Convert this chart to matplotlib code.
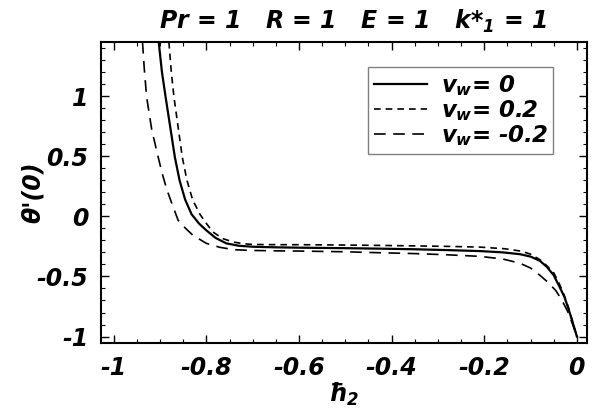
import matplotlib
matplotlib.use("Agg")
import matplotlib.pyplot as plt
from matplotlib.ticker import MultipleLocator

plt.rcParams['font.family'] = 'DejaVu Sans'
plt.rcParams['font.weight'] = 'bold'
plt.rcParams['font.style'] = 'italic'
plt.rcParams['mathtext.fontset'] = 'custom'
plt.rcParams['mathtext.rm'] = 'DejaVu Sans:italic:bold'
plt.rcParams['mathtext.it'] = 'DejaVu Sans:italic:bold'
plt.rcParams['mathtext.bf'] = 'DejaVu Sans:italic:bold'

# values
h2_zero = [-0.903, -0.896, -0.888, -0.878, -0.868, -0.858, -0.846, -0.832, -0.816, -0.80,
           -0.78, -0.757, -0.73, -0.70, -0.65, -0.598, -0.50, -0.425, -0.35, -0.28,
           -0.21, -0.16, -0.123, -0.10, -0.08, -0.065, -0.05, -0.037, -0.027, -0.019,
           -0.01, 0.0]
th_zero = [1.45, 1.20, 0.99, 0.74, 0.49, 0.30, 0.14, 0.017, -0.06, -0.117,
           -0.18, -0.225, -0.245, -0.253, -0.258, -0.261, -0.265, -0.269, -0.274, -0.281,
           -0.289, -0.30, -0.315, -0.335, -0.37, -0.42, -0.49, -0.59, -0.67, -0.76,
           -0.87, -1.0]

h2_pos = [-0.881, -0.876, -0.870, -0.861, -0.852, -0.842, -0.830, -0.814, -0.80, -0.786,
          -0.765, -0.742, -0.72, -0.70, -0.65, -0.598, -0.50, -0.425, -0.35, -0.28,
          -0.21, -0.155, -0.12, -0.10, -0.08, -0.065, -0.05, -0.038, -0.028, -0.018,
          -0.009, 0.0]
th_pos = [1.45, 1.21, 0.99, 0.74, 0.49, 0.30, 0.14, 0.017, -0.06, -0.13,
          -0.185, -0.214, -0.228, -0.234, -0.236, -0.236, -0.239, -0.242, -0.246, -0.25,
          -0.256, -0.27, -0.29, -0.315, -0.36, -0.41, -0.47, -0.56, -0.65, -0.76,
          -0.88, -1.0]

h2_neg = [-0.938, -0.934, -0.929, -0.918, -0.904, -0.895, -0.885, -0.873, -0.861, -0.845,
          -0.829, -0.80, -0.771, -0.739, -0.70, -0.65, -0.598, -0.50, -0.425, -0.35,
          -0.28, -0.21, -0.16, -0.123, -0.10, -0.08, -0.062, -0.045, -0.032, -0.02,
          -0.01, 0.0]
th_neg = [1.45, 1.22, 0.99, 0.72, 0.49, 0.35, 0.217, 0.09, -0.033, -0.10,
          -0.158, -0.225, -0.258, -0.278, -0.284, -0.287, -0.289, -0.295, -0.303, -0.31,
          -0.32, -0.333, -0.355, -0.39, -0.43, -0.49, -0.55, -0.62, -0.70, -0.79,
          -0.89, -1.0]

labels = ['$v_w$= 0', '$v_w$= 0.2', '$v_w$= -0.2']
xticks = [-1, -0.8, -0.6, -0.4, -0.2, 0]
xtick_labels = ['-1', '-0.8', '-0.6', '-0.4', '-0.2', '0']
yticks = [-1, -0.5, 0, 0.5, 1]
ytick_labels = ['-1', '-0.5', '0', '0.5', '1']

fig = plt.figure(figsize=(5.93, 4.11), dpi=100)
ax = fig.add_axes([0.170, 0.165, 0.820, 0.733])

ax.plot(h2_zero, th_zero, color='black', lw=1.6, label=labels[0])
ax.plot(h2_pos, th_pos, color='black', lw=1.2, dashes=(4, 3), label=labels[1])
ax.plot(h2_neg, th_neg, color='black', lw=1.2, dashes=(7, 4.5), label=labels[2])

ax.set_xlim(-1.028, 0.022)
ax.set_ylim(-1.055, 1.45)

ax.set_xticks(xticks)
ax.set_xticklabels(xtick_labels)
ax.set_yticks(yticks)
ax.set_yticklabels(ytick_labels)
ax.xaxis.set_minor_locator(MultipleLocator(0.05))
ax.yaxis.set_minor_locator(MultipleLocator(0.1))
ax.tick_params(which='both', direction='in', top=True, right=True, labelsize=17, pad=9)
ax.tick_params(which='major', length=6, width=1)
ax.tick_params(which='minor', length=3, width=0.8)
for sp in ax.spines.values():
    sp.set_linewidth(1.5)

ax.set_xlabel('ħ$_2$', fontsize=17, fontweight='bold')
ax.set_ylabel("θ'(0)", fontsize=17, fontweight='bold')
ax.xaxis.set_label_coords(0.5, -0.125)
ax.yaxis.set_label_coords(-0.115, 0.5)
fig.text(0.595, 0.948, 'Pr = 1   R = 1   E = 1   k*$_1$ = 1', fontsize=17,
         ha='center', va='center')

leg = ax.legend(loc='upper right', bbox_to_anchor=(0.93, 0.917), fontsize=16.5,
                handlelength=2.3, handletextpad=0.6, labelspacing=0.02,
                borderpad=0.25, borderaxespad=0, fancybox=False, framealpha=1)
leg.get_frame().set_edgecolor('gray')
leg.get_frame().set_linewidth(1.0)

fig.savefig('out.png', dpi=100)
